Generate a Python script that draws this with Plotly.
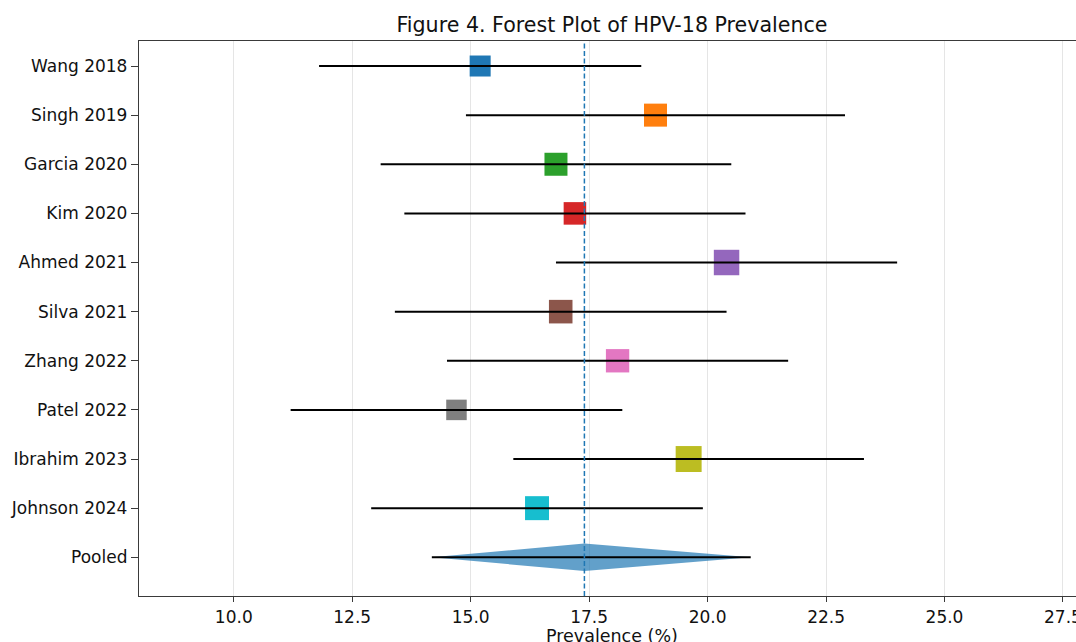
import plotly.graph_objects as go

# ---- data ----
studies = ["Wang 2018", "Singh 2019", "Garcia 2020", "Kim 2020", "Ahmed 2021",
           "Silva 2021", "Zhang 2022", "Patel 2022", "Ibrahim 2023", "Johnson 2024"]
estimates = [15.2, 18.9, 16.8, 17.2, 20.4, 16.9, 18.1, 14.7, 19.6, 16.4]
ci_low = [11.8, 14.9, 13.1, 13.6, 16.8, 13.4, 14.5, 11.2, 15.9, 12.9]
ci_high = [18.6, 22.9, 20.5, 20.8, 24.0, 20.4, 21.7, 18.2, 23.3, 19.9]
weights = [8.5, 10.2, 10.2, 9.8, 12.5, 10.7, 10.5, 8.1, 13.0, 11.1]
pooled_label = "Pooled"
pooled_est = 17.4
pooled_low = 14.18
pooled_high = 20.91
x_ticks = [10.0, 12.5, 15.0, 17.5, 20.0, 22.5, 25.0, 27.5]

colors = ["#1f77b4", "#ff7f0e", "#2ca02c", "#d62728", "#9467bd",
          "#8c564b", "#e377c2", "#7f7f7f", "#bcbd22", "#17becf"]

labels = studies + [pooled_label]
ypos = list(range(len(labels)))
pooled_y = ypos[-1]

FONT = "DejaVu Sans"
TXT = "#111111"
fig = go.Figure()

# study squares
fig.add_trace(go.Scatter(
    x=estimates, y=ypos[:len(studies)], mode="markers",
    marker=dict(symbol="square", color=colors, opacity=1,
                size=[7.2 * w ** 0.5 for w in weights],
                line=dict(width=0)),
    showlegend=False, hoverinfo="skip"))

# pooled diamond
h = 0.28
fig.add_trace(go.Scatter(
    x=[pooled_low, pooled_est, pooled_high, pooled_est, pooled_low],
    y=[pooled_y, pooled_y - h, pooled_y, pooled_y + h, pooled_y],
    mode="lines", fill="toself", fillcolor="rgba(31,119,180,0.7)",
    line=dict(width=0, color="rgba(0,0,0,0)"), showlegend=False, hoverinfo="skip"))

# CI lines
cx, cy = [], []
for lo, hi, y in zip(ci_low + [pooled_low], ci_high + [pooled_high], ypos):
    cx += [lo, hi, None]
    cy += [y, y, None]
fig.add_trace(go.Scatter(x=cx, y=cy, mode="lines",
                         line=dict(color="black", width=2),
                         showlegend=False, hoverinfo="skip"))

# pooled reference line
fig.add_shape(type="line", x0=pooled_est, x1=pooled_est, y0=0, y1=1,
              xref="x", yref="paper", layer="above",
              line=dict(color="#1f77b4", width=1.5, dash="5px,2.5px"))

fig.update_layout(
    width=1076, height=642,
    margin=dict(l=139, r=0, t=41, b=46, autoexpand=False),
    paper_bgcolor="white", plot_bgcolor="white",
    font=dict(family=FONT, size=17, color=TXT),
    title=dict(text="Figure 4. Forest Plot of HPV-18 Prevalence",
               x=(612 - 139) / 937, xref="paper", xanchor="center",
               y=1 - 25 / 642, yref="container", yanchor="middle",
               font=dict(family=FONT, size=20.6, color=TXT)),
    xaxis=dict(range=[8.0, 27.775], tickvals=x_ticks,
               ticktext=[f"{t:.1f}" for t in x_ticks],
               showgrid=True, gridcolor="#e5e5e5", gridwidth=1,
               zeroline=False, showline=True, linecolor="#3a3a3a", linewidth=1.3,
               mirror=True, ticks="outside", ticklen=5, tickcolor="#3a3a3a",
               ticklabeloverflow="allow", automargin=False,
               tickfont=dict(size=17)),
    yaxis=dict(range=[10.788, -0.509], tickvals=ypos, ticktext=labels,
               showgrid=False, zeroline=False, showline=True,
               linecolor="#3a3a3a", linewidth=1.3, automargin=False,
               ticks="outside", ticklen=7, tickcolor="#3a3a3a",
               tickfont=dict(size=17)),
    annotations=[dict(text="Prevalence (%)", x=(612 - 139) / 937, xref="paper",
                      y=-(636 - 596) / 555, yref="paper", xanchor="center",
                      yanchor="middle", showarrow=False,
                      font=dict(family=FONT, size=17.5, color=TXT))],
)

fig.write_html("out.html")
